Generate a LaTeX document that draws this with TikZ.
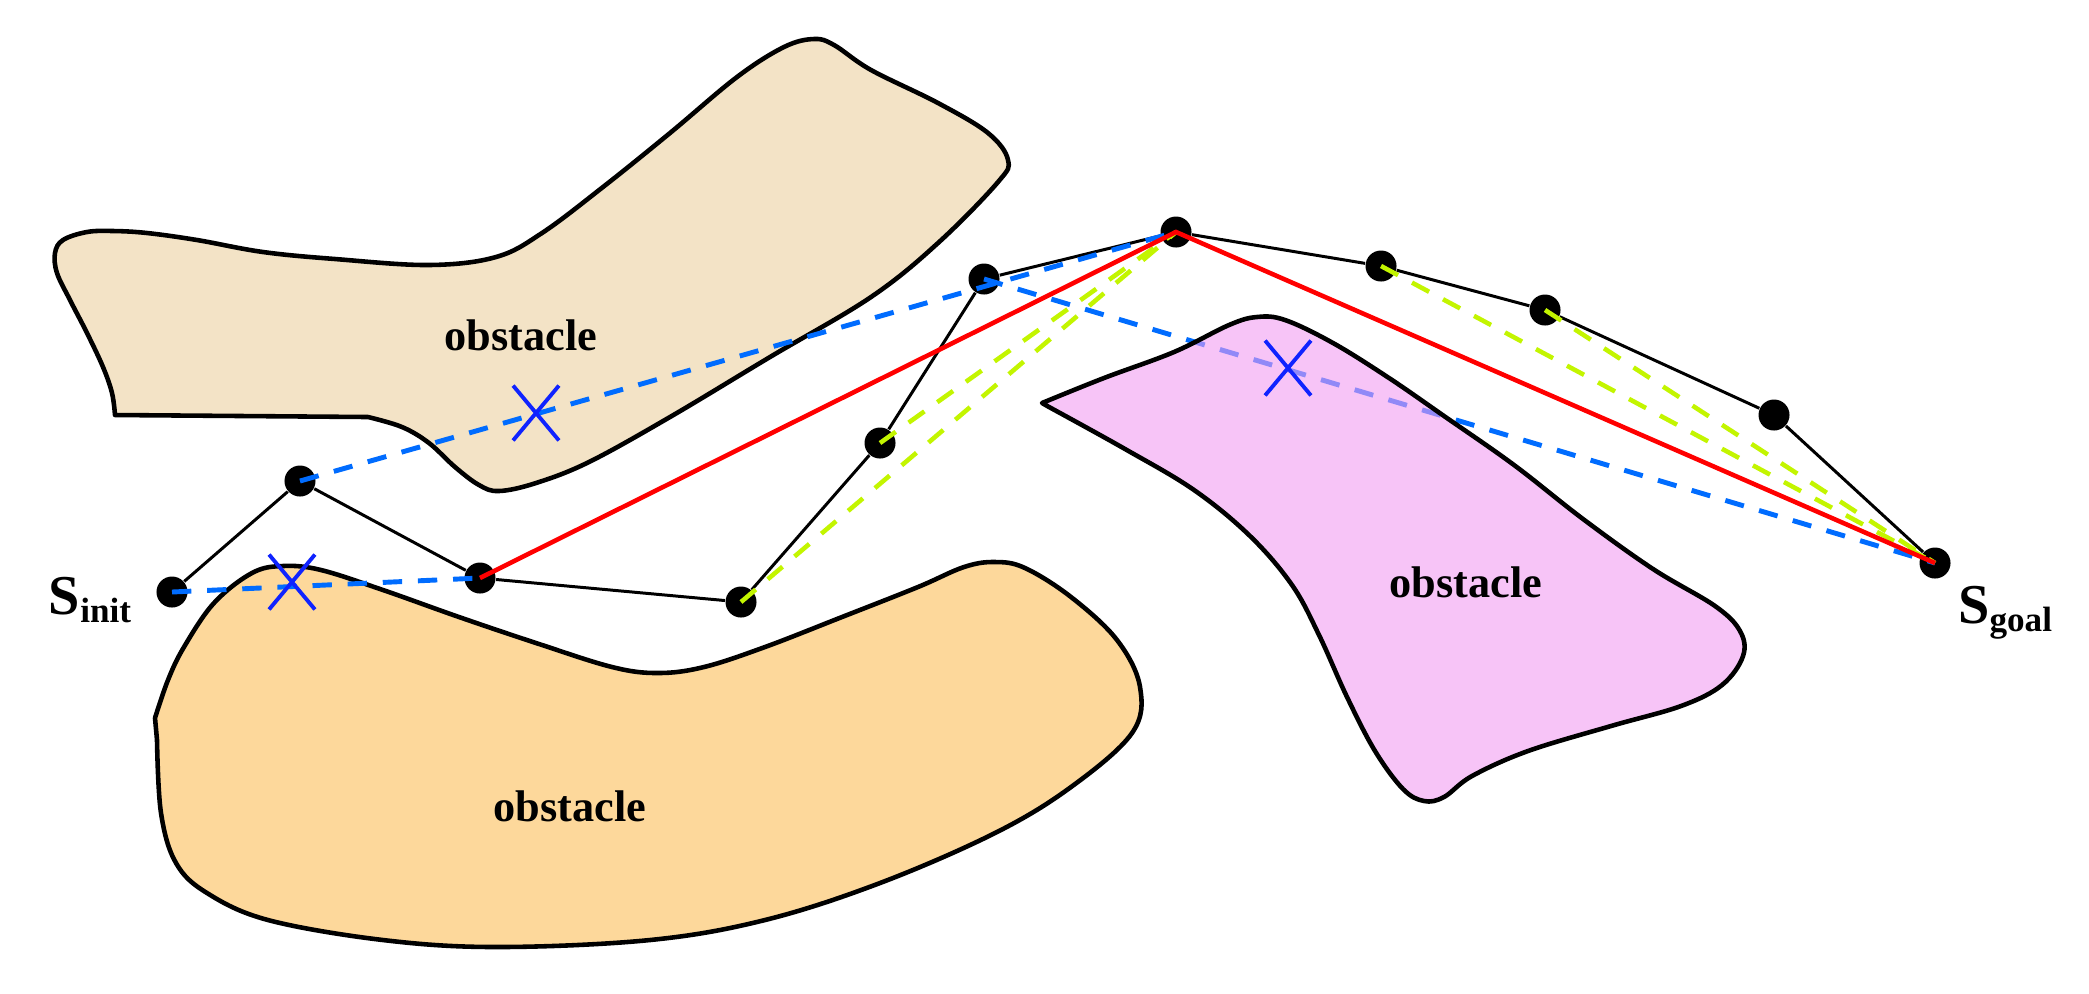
\documentclass[tikz,border=0pt]{standalone}
\usepackage{fontspec}
\setmainfont{Liberation Serif}
\usetikzlibrary{positioning, shapes.misc}
\definecolor{OBSbeige}{RGB}{243,227,198}
\definecolor{OBSorange}{RGB}{253,216,155}
\definecolor{OBSpink}{RGB}{242,157,242}
\definecolor{PTHblue}{RGB}{0,108,255}
\definecolor{PTHcross}{RGB}{15,35,255}
\definecolor{PTHgreen}{RGB}{195,245,0}
\definecolor{PTHred}{RGB}{255,0,0}
\tikzset{
  obst/.style={draw=black, line width=1.3pt, line join=round},
  lbl/.style={font=\fontsize{12.6}{14}\selectfont\bfseries, inner sep=0pt},
  state/.style={font=\fontsize{16}{18}\selectfont\bfseries, inner sep=0pt},
  wp/.style={circle, fill=black, inner sep=0pt, minimum size=3.1mm},
  raw/.style={black, line width=0.85pt},
  coll/.style={PTHblue, line width=1.4pt, dash pattern=on 5.5pt off 4.5pt},
  cand/.style={PTHgreen, line width=1.3pt, dash pattern=on 5.5pt off 4.5pt},
  short/.style={PTHred, line width=1.3pt},
  xmark/.style={cross out, draw=PTHcross, line width=1.1pt, solid, minimum width=4.2mm, minimum height=5.1mm, inner sep=0pt},
}
\newcommand{\stlabel}[2]{S\raisebox{-0.8mm}{\fontsize{10}{12}\selectfont #2}}
\begin{document}
\begin{tikzpicture}[x=0.01cm, y=-0.01cm]
    \useasboundingbox (0,0) rectangle (2089,993);
    % obstacles
    \draw[obst, fill=OBSbeige] plot[smooth, tension=.6] coordinates {(115,415) (112,393) (103,367) (87,333) (70,300) (57,273) (55,253) (63,240) (87,232) (113,231) (147,233) (197,240) (263,252) (335,259) (429,265) (496,257) (542,233) (603,187) (670,133) (737,77) (784,47) (814,39) (834,45) (871,70) (938,103) (988,133) (1008,160) (998,182) (938,243) (871,297) (770,357) (670,417) (589,462) (536,483) (499,491) (479,485) (455,467) (429,443) (402,427) (368,417)} -- cycle;
    \draw[obst, fill=OBSorange] plot[smooth, tension=.6] coordinates {(155,718) (168,680) (184,647) (214,603) (252,573) (283,566) (321,570) (383,590) (459,617) (536,643) (612,667) (658,673) (704,667) (765,647) (842,617) (918,587) (964,567) (995,562) (1025,568) (1071,597) (1117,640) (1140,687) (1132,733) (1071,787) (995,833) (880,883) (765,920) (650,940) (497,947) (383,940) (268,920) (207,893) (176,863) (161,813) (157,740)} -- cycle;
    \node[lbl] (o1) at (521,335) {obstacle};
    \node[lbl] (o2) at (570,806) {obstacle};
    % waypoints
    \node[wp] (si) at (172,592) {};
    \node[wp] (p1) at (300,481) {};
    \node[wp] (p2) at (480,578) {};
    \node[wp] (p3) at (741,602) {};
    \node[wp] (p4) at (880,443) {};
    \node[wp] (p5) at (984,279) {};
    \node[wp] (p6) at (1176,232) {};
    \node[wp] (p7) at (1381,266) {};
    \node[wp] (p8) at (1545,310) {};
    \node[wp] (p9) at (1774,415) {};
    \node[wp] (sg) at (1935,563) {};
    \draw[raw] (si)--(p1)--(p2)--(p3)--(p4)--(p5)--(p6)--(p7)--(p8)--(p9)--(sg);
    \draw[coll] (si.center)--(p2.center); \draw[coll] (p1.center)--(p6.center);
    \draw[coll] (p5.center)--(sg.center);
    \draw[cand] (p3.center)--(p6.center); \draw[cand] (p4.center)--(p6.center);
    \draw[cand] (p7.center)--(sg.center); \draw[cand] (p8.center)--(sg.center);
    \draw[short] (p2.center)--(p6.center)--(sg.center);
    \draw[obst, fill=OBSpink, fill opacity=.6] plot[smooth, tension=.6] coordinates {(1042,403) (1104,378) (1174,352) (1229,325) (1257,317) (1285,320) (1333,343) (1389,378) (1444,416) (1514,465) (1583,519) (1653,569) (1715,606) (1740,631) (1743,656) (1722,685) (1681,706) (1611,726) (1528,751) (1472,776) (1444,797) (1424,801) (1403,789) (1375,751) (1347,697) (1319,635) (1292,585) (1250,536) (1194,490) (1125,449) (1049,407)} -- cycle;
    \node[lbl] (o3) at (1466,582) {obstacle};
    % collisions
    \node[xmark] (x1) at (292,582) {};
    \node[xmark] (x2) at (536,413) {};
    \node[xmark] (x3) at (1288,368) {};
    \node[state, left=2.4mm of si, yshift=-0.8mm] (sil) {\stlabel{S}{init}};
    \node[state, below right=1.1mm and 1.1mm of sg] (sgl) {\stlabel{S}{goal}};
\end{tikzpicture}
\end{document}
